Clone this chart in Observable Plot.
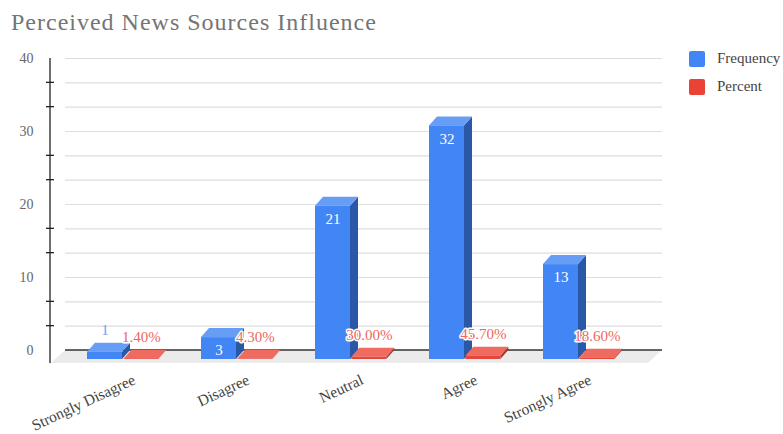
<!DOCTYPE html>
<html>
<head>
<meta charset="utf-8">
<script src="https://cdn.jsdelivr.net/npm/d3@7"></script>
<script src="https://cdn.jsdelivr.net/npm/@observablehq/plot@0.6"></script>
<style>
  html, body { margin: 0; padding: 0; background: #fff; }
  #wrap { position: relative; width: 783px; height: 434px; overflow: hidden; font-family: "Liberation Serif", serif; }
  #chart { position: absolute; left: 0; top: 0; }
  #title { position: absolute; left: 11px; top: 10px; font-size: 24px; line-height: 24px; letter-spacing: 1px; color: #757575; white-space: nowrap; }
  .lg { position: absolute; left: 689px; display: flex; align-items: center; white-space: nowrap; font-size: 15px; color: #444; }
  .lg span.sw { width: 16px; height: 16px; border-radius: 2px; margin-right: 12px; display: inline-block; }
</style>
</head>
<body>
<div id="wrap">
  <div id="chart"></div>
  <div id="title">Perceived News Sources Influence</div>
  <div class="lg" style="top:50px"><span class="sw" style="background:#4285F4"></span>Frequency</div>
  <div class="lg" style="top:78px"><span class="sw" style="background:#EA4335"></span>Percent</div>
</div>
<script>
const categories = ["Strongly Disagree", "Disagree", "Neutral", "Agree", "Strongly Agree"];
const frequency = [1, 3, 21, 32, 13];
const percent = [0.014, 0.043, 0.30, 0.457, 0.186];
const percentLabels = ["1.40%", "4.30%", "30.00%", "45.70%", "18.60%"];
const yTicks = [0, 10, 20, 30, 40];
const gridTicks = [10/3, 20/3, 10, 40/3, 50/3, 20, 70/3, 80/3, 30, 100/3, 110/3, 40];
const minorTicks = [10/3, 20/3, 40/3, 50/3, 70/3, 80/3, 100/3, 110/3];

const data = categories.map((c, i) => ({category: c, frequency: frequency[i], percent: percent[i], label: percentLabels[i]}));

const FONT = '"Liberation Serif", serif';
const DX = 8, DY = 9;          // bar depth
const FX = 14, FY = 13;        // floor depth
const BAR_W = 35, GAP = 1.3;
const BLUE = {front: "#4285F4", side: "#2B58A6", top: "#689DF6"};
const RED = {front: "#E8453C", side: "#A8322A", top: "#EF6A5F"};

function box(g, x1, x2, yv, y0, c) {
  const top = yv + DY, bot = y0 + DY;
  g.append("path").attr("d", `M${x2},${top}L${x2 + DX},${top - DY}L${x2 + DX},${bot - DY}L${x2},${bot}Z`).attr("fill", c.side);
  g.append("path").attr("d", `M${x1},${top}L${x1 + DX},${top - DY}L${x2 + DX},${top - DY}L${x2},${top}Z`).attr("fill", c.top);
  g.append("rect").attr("x", x1).attr("y", top).attr("width", x2 - x1).attr("height", Math.max(0, bot - top)).attr("fill", c.front);
}

function barsMark(index, scales) {
  const {x, y} = scales;
  const g = d3.create("svg:g");
  const y0 = y(0);
  data.forEach(d => {
    const cx = x(d.category);
    box(g, cx - BAR_W, cx, y(d.frequency), y0, BLUE);
    box(g, cx + GAP, cx + GAP + BAR_W, y(d.percent), y0, RED);
  });
  return g.node();
}

function floorMark(index, scales, values, dims) {
  const {y} = scales;
  const xl = dims.marginLeft, xr = dims.width - dims.marginRight, yb = y(0);
  const g = d3.create("svg:g");
  g.append("path")
    .attr("d", `M${xl},${yb}L${xr},${yb}L${xr - FX},${yb + FY}L${xl - FX},${yb + FY}Z`)
    .attr("fill", "#ebebeb");
  g.append("line").attr("x1", xl).attr("x2", xr).attr("y1", yb).attr("y2", yb)
    .attr("stroke", "#333").attr("stroke-width", 1.3);
  return g.node();
}

function axisMark(index, scales, values, dims) {
  const {y} = scales;
  const ax = dims.marginLeft - 15;
  const g = d3.create("svg:g").attr("stroke", "#222").attr("stroke-width", 1.3);
  g.append("line").attr("x1", ax).attr("x2", ax).attr("y1", y(40)).attr("y2", y(0) + FY);
  minorTicks.forEach(t => {
    g.append("line").attr("x1", ax - 4).attr("x2", ax + 4).attr("y1", y(t)).attr("y2", y(t));
  });
  return g.node();
}

const chart = Plot.plot({
  width: 783,
  height: 434,
  marginTop: 58,
  marginBottom: 84,
  marginLeft: 65,
  marginRight: 121,
  style: {fontFamily: FONT, background: "transparent", overflow: "visible"},
  x: {type: "point", domain: categories, range: [121.7, 578], padding: 0, axis: null},
  y: {domain: [0, 40], range: [350, 58], axis: null},
  marks: [
    Plot.ruleY(gridTicks, {y: d => d, stroke: "#dedede", strokeWidth: 1.2}),
    floorMark,
    axisMark,
    Plot.text(yTicks, {y: d => d, text: d => String(d), frameAnchor: "left", dx: -32, textAnchor: "end", fontSize: 14, fill: "#666"}),
    barsMark,
    Plot.text(data.filter(d => d.frequency >= 3), {x: "category", y: "frequency", text: d => String(d.frequency), dx: -BAR_W / 2, dy: DY + 13, fill: "white", fontSize: 15}),
    Plot.text(data.filter(d => d.frequency < 3), {x: "category", y: "frequency", text: d => String(d.frequency), dx: -BAR_W / 2, dy: DY - 22, fill: "#6D9EF7", fontSize: 15}),
    Plot.text(data, {x: "category", y: "percent", text: "label", dx: GAP + BAR_W / 2, dy: DY - 22, fill: "#F0675C", stroke: "white", strokeWidth: 3, fontSize: 15}),
    Plot.text(categories, {x: d => d, y: () => 0, text: d => d, rotate: -25, textAnchor: "end", lineAnchor: "bottom", dx: 14, dy: 33, fontSize: 15.5, fill: "#444"})
  ]
});
document.getElementById("chart").appendChild(chart);
</script>
</body>
</html>
